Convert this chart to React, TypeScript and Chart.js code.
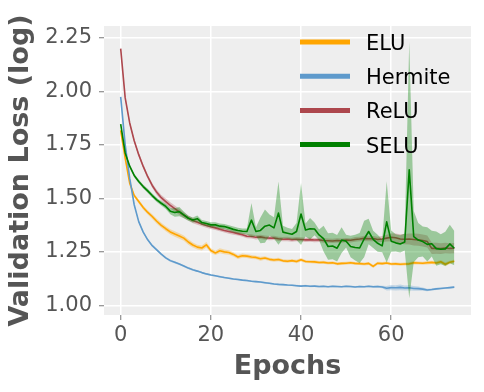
import React, { useEffect, useRef } from 'react';
import { Chart, registerables } from 'chart.js';

Chart.register(...registerables);

// ---- data ----
const epochs = Array.from({ length: 75 }, (_, i) => i);

const xTicks = [0, 20, 40, 60];
const yTicks = [1.0, 1.25, 1.5, 1.75, 2.0, 2.25];

const seriesNames = ['ELU', 'Hermite', 'ReLU', 'SELU'];
const lineColors = ['#FFA500', '#5E9ACC', '#AD474D', '#008000'];
const bandColors = [
  'rgba(255,165,0,0.30)',
  'rgba(94,154,204,0.30)',
  'rgba(173,71,77,0.30)',
  'rgba(0,128,0,0.35)',
];

const eluMean = [
  1.817, 1.688, 1.571, 1.513, 1.485, 1.457, 1.434, 1.415, 1.393, 1.374,
  1.358, 1.343, 1.333, 1.324, 1.314, 1.296, 1.282, 1.272, 1.268, 1.283,
  1.256, 1.245, 1.255, 1.250, 1.247, 1.238, 1.226, 1.232, 1.230, 1.226,
  1.224, 1.218, 1.221, 1.215, 1.212, 1.214, 1.208, 1.206, 1.209, 1.205,
  1.213, 1.205, 1.204, 1.203, 1.200, 1.201, 1.198, 1.199, 1.194, 1.196,
  1.197, 1.199, 1.196, 1.195, 1.193, 1.196, 1.182, 1.197, 1.195, 1.198,
  1.193, 1.194, 1.192, 1.193, 1.194, 1.199, 1.198, 1.197, 1.199, 1.201,
  1.198, 1.204, 1.192, 1.201, 1.206,
];
const eluStd = [
  0.006, 0.008, 0.008, 0.008, 0.009, 0.010, 0.010, 0.011, 0.012, 0.012,
  0.012, 0.012, 0.013, 0.013, 0.012, 0.013, 0.012, 0.011, 0.012, 0.013,
  0.011, 0.010, 0.012, 0.011, 0.010, 0.010, 0.009, 0.010, 0.009, 0.009,
  0.008, 0.009, 0.008, 0.008, 0.008, 0.008, 0.007, 0.008, 0.007, 0.008,
  0.008, 0.007, 0.007, 0.008, 0.007, 0.007, 0.007, 0.007, 0.007, 0.007,
  0.007, 0.007, 0.007, 0.007, 0.007, 0.007, 0.008, 0.007, 0.007, 0.007,
  0.007, 0.007, 0.007, 0.007, 0.007, 0.008, 0.007, 0.007, 0.008, 0.008,
  0.008, 0.008, 0.009, 0.008, 0.008,
];

const hermiteMean = [
  1.974, 1.750, 1.594, 1.470, 1.391, 1.342, 1.306, 1.279, 1.259, 1.239,
  1.222, 1.209, 1.201, 1.193, 1.184, 1.174, 1.166, 1.160, 1.153, 1.147,
  1.142, 1.138, 1.134, 1.130, 1.127, 1.123, 1.121, 1.118, 1.116, 1.113,
  1.111, 1.109, 1.106, 1.103, 1.100, 1.098, 1.097, 1.095, 1.094, 1.092,
  1.090, 1.092, 1.089, 1.090, 1.088, 1.089, 1.087, 1.089, 1.088, 1.087,
  1.089, 1.088, 1.086, 1.088, 1.087, 1.089, 1.087, 1.088, 1.086, 1.080,
  1.083, 1.082, 1.084, 1.081, 1.082, 1.079, 1.078, 1.076, 1.072, 1.074,
  1.077, 1.079, 1.081, 1.083, 1.085,
];
const hermiteStd = [
  0.006, 0.006, 0.006, 0.005, 0.005, 0.005, 0.005, 0.005, 0.005, 0.005,
  0.005, 0.005, 0.005, 0.005, 0.005, 0.005, 0.004, 0.004, 0.004, 0.004,
  0.004, 0.004, 0.004, 0.004, 0.004, 0.004, 0.004, 0.004, 0.004, 0.004,
  0.004, 0.004, 0.004, 0.004, 0.004, 0.004, 0.004, 0.004, 0.004, 0.004,
  0.004, 0.004, 0.004, 0.004, 0.004, 0.004, 0.004, 0.004, 0.004, 0.004,
  0.004, 0.004, 0.004, 0.004, 0.004, 0.004, 0.005, 0.005, 0.006, 0.010,
  0.012, 0.012, 0.013, 0.012, 0.012, 0.011, 0.010, 0.008, 0.006, 0.005,
  0.005, 0.004, 0.004, 0.004, 0.004,
];

const reluMean = [
  2.199, 1.969, 1.852, 1.769, 1.704, 1.649, 1.601, 1.560, 1.528, 1.503,
  1.485, 1.467, 1.452, 1.437, 1.421, 1.408, 1.396, 1.388, 1.380, 1.373,
  1.367, 1.362, 1.356, 1.350, 1.345, 1.340, 1.335, 1.330, 1.323, 1.322,
  1.318, 1.320, 1.316, 1.314, 1.315, 1.311, 1.309, 1.310, 1.307, 1.309,
  1.308, 1.306, 1.307, 1.305, 1.306, 1.303, 1.302, 1.301, 1.303, 1.302,
  1.305, 1.304, 1.308, 1.310, 1.313, 1.311, 1.312, 1.308, 1.310, 1.314,
  1.318, 1.316, 1.310, 1.309, 1.310, 1.308, 1.306, 1.303, 1.298, 1.266,
  1.267, 1.265, 1.268, 1.266, 1.267,
];
const reluStd = [
  0.008, 0.008, 0.009, 0.009, 0.010, 0.010, 0.010, 0.011, 0.012, 0.013,
  0.014, 0.015, 0.015, 0.014, 0.013, 0.012, 0.012, 0.011, 0.011, 0.010,
  0.010, 0.010, 0.010, 0.010, 0.010, 0.010, 0.009, 0.010, 0.010, 0.010,
  0.010, 0.010, 0.010, 0.010, 0.010, 0.010, 0.010, 0.010, 0.010, 0.010,
  0.010, 0.010, 0.010, 0.010, 0.010, 0.010, 0.010, 0.010, 0.010, 0.010,
  0.010, 0.010, 0.011, 0.011, 0.012, 0.012, 0.012, 0.013, 0.014, 0.016,
  0.018, 0.020, 0.022, 0.024, 0.026, 0.028, 0.028, 0.028, 0.028, 0.026,
  0.026, 0.025, 0.025, 0.024, 0.024,
];

const seluMean = [
  1.847, 1.712, 1.650, 1.607, 1.579, 1.555, 1.535, 1.513, 1.493, 1.477,
  1.462, 1.440, 1.434, 1.438, 1.423, 1.407, 1.399, 1.405, 1.387, 1.382,
  1.376, 1.376, 1.370, 1.368, 1.362, 1.355, 1.350, 1.346, 1.345, 1.398,
  1.345, 1.350, 1.370, 1.375, 1.362, 1.431, 1.342, 1.337, 1.332, 1.345,
  1.427, 1.352, 1.358, 1.357, 1.329, 1.312, 1.275, 1.277, 1.267, 1.305,
  1.300, 1.275, 1.270, 1.268, 1.310, 1.345, 1.308, 1.290, 1.278, 1.390,
  1.300, 1.292, 1.287, 1.296, 1.633, 1.321, 1.305, 1.298, 1.285, 1.288,
  1.265, 1.262, 1.264, 1.287, 1.267,
];
const seluStd = [
  0.006, 0.007, 0.008, 0.008, 0.009, 0.009, 0.010, 0.010, 0.010, 0.011,
  0.012, 0.014, 0.020, 0.022, 0.016, 0.012, 0.012, 0.015, 0.012, 0.012,
  0.012, 0.012, 0.012, 0.012, 0.012, 0.013, 0.013, 0.013, 0.014, 0.080,
  0.020, 0.060, 0.078, 0.050, 0.050, 0.148, 0.030, 0.025, 0.025, 0.040,
  0.145, 0.030, 0.050, 0.030, 0.025, 0.060, 0.062, 0.062, 0.062, 0.060,
  0.030, 0.050, 0.060, 0.070, 0.085, 0.060, 0.040, 0.040, 0.030, 0.190,
  0.050, 0.040, 0.040, 0.040, 0.600, 0.120, 0.080, 0.070, 0.080, 0.060,
  0.080, 0.070, 0.080, 0.090, 0.080,
];

const means = [eluMean, hermiteMean, reluMean, seluMean];
const stds = [eluStd, hermiteStd, reluStd, seluStd];

const FONT = '"DejaVu Sans", "Liberation Sans", sans-serif';

const bgPlugin = {
  id: 'plotBg',
  beforeDraw(chart: any) {
    const { ctx, chartArea: a, width, height } = chart;
    ctx.save();
    ctx.fillStyle = '#ffffff';
    ctx.fillRect(0, 0, width, height);
    ctx.fillStyle = '#EEEEEE';
    ctx.fillRect(a.left, a.top, a.right - a.left, a.bottom - a.top);
    ctx.restore();
  },
};

const legendPlugin = {
  id: 'insideLegend',
  afterDatasetsDraw(chart: any) {
    const { ctx, chartArea: a } = chart;
    ctx.save();
    seriesNames.forEach((name, i) => {
      const y = a.top + 16 + i * 34.2;
      const x0 = a.right - 171;
      ctx.strokeStyle = lineColors[i];
      ctx.lineWidth = 5;
      ctx.lineCap = 'butt';
      ctx.beginPath();
      ctx.moveTo(x0, y);
      ctx.lineTo(x0 + 50, y);
      ctx.stroke();
      ctx.fillStyle = '#000000';
      ctx.font = `21px ${FONT}`;
      ctx.textBaseline = 'alphabetic';
      ctx.textAlign = 'left';
      ctx.fillText(name, x0 + 66, y + 8);
    });
    ctx.restore();
  },
};

export default function App() {
  const ref = useRef<HTMLCanvasElement | null>(null);

  useEffect(() => {
    if (!ref.current) return;
    const datasets: any[] = [];
    seriesNames.forEach((name, i) => {
      const m = means[i];
      const s = stds[i];
      const bandOrder = 8 - i * 2;
      datasets.push({
        label: name + ' upper',
        data: epochs.map((e, k) => ({ x: e, y: m[k] + s[k] })),
        borderColor: 'transparent',
        borderWidth: 0,
        pointRadius: 0,
        backgroundColor: bandColors[i],
        fill: '+1',
        order: bandOrder,
        tension: 0,
      });
      datasets.push({
        label: name + ' lower',
        data: epochs.map((e, k) => ({ x: e, y: m[k] - s[k] })),
        borderColor: 'transparent',
        borderWidth: 0,
        pointRadius: 0,
        backgroundColor: 'transparent',
        fill: false,
        order: bandOrder,
        tension: 0,
      });
      datasets.push({
        label: name,
        data: epochs.map((e, k) => ({ x: e, y: m[k] })),
        borderColor: lineColors[i],
        borderWidth: 1.6,
        pointRadius: 0,
        fill: false,
        order: bandOrder - 1,
        tension: 0,
        borderJoinStyle: 'round',
      });
    });

    const chart = new Chart(ref.current, {
      type: 'line',
      data: { datasets },
      plugins: [bgPlugin, legendPlugin],
      options: {
        responsive: false,
        animation: false,
        devicePixelRatio: 1,
        layout: { padding: { top: 26, right: 13, left: 0, bottom: 0 } },
        plugins: {
          legend: { display: false },
          tooltip: { enabled: false },
          title: { display: false },
        },
        scales: {
          x: {
            type: 'linear',
            min: -3.7,
            max: 77.7,
            afterBuildTicks: (s: any) => {
              s.ticks = xTicks.map((v) => ({ value: v }));
            },
            afterFit: (s: any) => {
              s.height = 77;
            },
            border: { display: false },
            grid: {
              color: '#ffffff',
              lineWidth: 1.5,
              drawTicks: true,
              tickLength: 5,
              tickColor: '#777777',
              tickWidth: 1,
            },
            ticks: {
              color: '#555555',
              font: { family: FONT, size: 21 },
              padding: 3,
              maxRotation: 0,
              autoSkip: false,
              callback: (v: any) => String(v),
            },
            title: {
              display: true,
              text: 'Epochs',
              color: '#555555',
              font: { family: FONT, size: 27, weight: 'bold' },
              padding: { top: 0, bottom: 9 },
            },
          },
          y: {
            type: 'linear',
            min: 0.955,
            max: 2.305,
            afterBuildTicks: (s: any) => {
              s.ticks = yTicks.map((v) => ({ value: v }));
            },
            afterFit: (s: any) => {
              s.width = 104;
            },
            border: { display: false },
            grid: {
              color: '#ffffff',
              lineWidth: 1.5,
              drawTicks: true,
              tickLength: 5,
              tickColor: '#777777',
              tickWidth: 1,
            },
            ticks: {
              color: '#555555',
              font: { family: FONT, size: 21 },
              padding: 7,
              autoSkip: false,
              callback: (v: any) => Number(v).toFixed(2),
            },
            title: {
              display: true,
              text: 'Validation Loss (log)',
              color: '#555555',
              font: { family: FONT, size: 27, weight: 'bold' },
              padding: { top: 5, bottom: 0 },
            },
          },
        },
      } as any,
    });
    return () => chart.destroy();
  }, []);

  return (
    <div style={{ position: 'fixed', left: 0, top: 0, width: 484, height: 392, background: '#fff' }}>
      <canvas ref={ref} width={484} height={392} style={{ width: 484, height: 392, display: 'block' }} />
    </div>
  );
}
